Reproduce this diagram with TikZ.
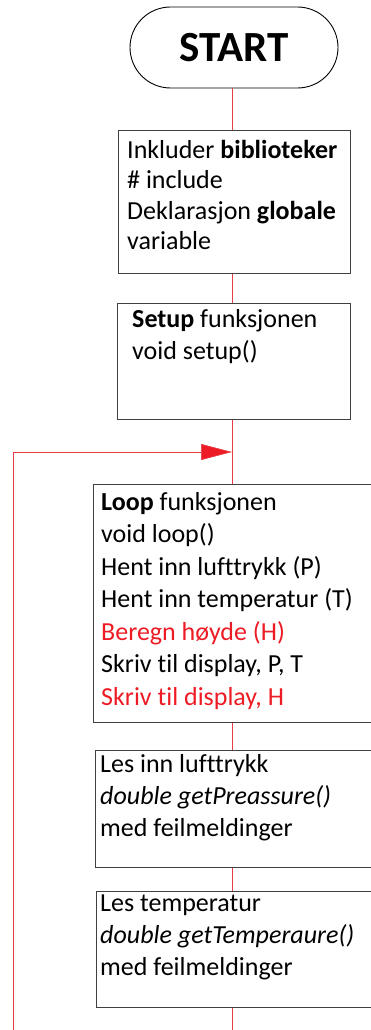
\documentclass[tikz,border=0pt]{standalone}
\usepackage{fontspec}
\setmainfont{Carlito}[Ligatures=NoCommon]
\usetikzlibrary{arrows.meta,calc}
\definecolor{flowred}{RGB}{232,60,70}
\definecolor{txtred}{RGB}{237,28,36}
\definecolor{boxgray}{RGB}{64,64,64}
\tikzset{
  x=1pt,y=-1pt,
  boxnode/.style={draw=boxgray,line width=0.9pt,rectangle,anchor=north west,inner sep=0pt},
  conn/.style={draw=flowred,line width=0.7pt},
  txt/.style={anchor=base west,inner sep=0pt,align=left,font=\fontsize{26}{32.3}\selectfont},
}
\begin{document}
\begin{tikzpicture}
\useasboundingbox (0,0) rectangle (371,1030);
% start terminal
\node[draw=black,line width=0.9pt,rounded corners=40.5pt,minimum width=208pt,minimum height=81pt,inner sep=0pt,font=\fontsize{43}{46}\bfseries\selectfont] (start) at (234,47.5) {START};
\coordinate (axis) at (232,0);
\coordinate (join) at (232,452);
\coordinate (bottom) at (232,1032);
\coordinate (loopbottom) at (13,1032);
% boxes
\node[boxnode,minimum width=232pt,minimum height=143pt] (inc) at (118,130) {};
\node[boxnode,minimum width=233pt,minimum height=116pt] (setup) at (117,303) {};
\node[boxnode,minimum width=290pt,minimum height=238pt] (loop) at (93,484) {};
\node[boxnode,minimum width=290pt,minimum height=117pt] (pres) at (95,750) {};
\node[boxnode,minimum width=290pt,minimum height=116pt] (temp) at (96,891) {};
% texts (anchored at the baseline of their last line)
\node[txt,font=\fontsize{26}{30.6}\selectfont] (inctxt) at (127,249.8) {Inkluder \textbf{biblioteker}\\\# include\\Deklarasjon \textbf{globale}\\variable};
\node[txt] (setuptxt) at (132,359.3) {\textbf{Setup} funksjonen\\void setup()};
\node[txt,font=\fontsize{26}{32.5}\selectfont] (looptxt) at (101,705) {\textbf{Loop} funksjonen\\void loop()\\Hent inn lufttrykk (P)\\Hent inn temperatur (T)\\\textcolor{txtred}{Beregn høyde (H)}\\Skriv til display, P, T\\\textcolor{txtred}{Skriv til display, H}};
\node[txt] (prestxt) at (100,836.6) {Les inn lufttrykk\\\textit{double getPreassure()}\\med feilmeldinger};
\node[txt] (temptxt) at (100,975.6) {Les temperatur\\\textit{double getTemperaure()}\\med feilmeldinger};
% connectors
\draw[conn] (axis |- start.south) -- (axis |- inc.north);
\draw[conn] (axis |- inc.south) -- (axis |- setup.north);
\draw[conn] (axis |- setup.south) -- (axis |- loop.north);
\draw[conn] (axis |- loop.south) -- (axis |- pres.north);
\draw[conn] (axis |- pres.south) -- (axis |- temp.north);
\draw[conn] (axis |- temp.south) -- (bottom);
\draw[conn,-{Triangle[length=31pt,width=16pt,fill=txtred]}] (loopbottom) |- (join);
\end{tikzpicture}
\end{document}
